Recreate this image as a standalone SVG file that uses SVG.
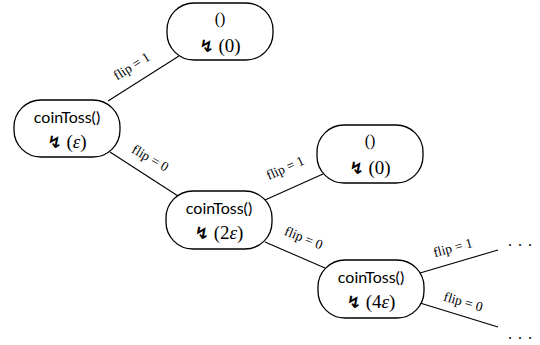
<svg xmlns="http://www.w3.org/2000/svg" width="540" height="345" viewBox="0 0 540 345">
  <style>
    .node rect { fill: #ffffff; stroke: #000000; stroke-width: 1.3; }
    .fn { font-family: "Lato", "Liberation Sans", sans-serif; font-size: 16px; fill: #000; text-anchor: middle; }
    .unit { font-family: "Liberation Serif", "DejaVu Serif", serif; font-size: 16px; fill: #000; text-anchor: middle; }
    .cost { font-family: "Liberation Serif", "DejaVu Serif", serif; font-size: 19px; fill: #000; text-anchor: middle; }
    .bolt { font-family: "DejaVu Sans", sans-serif; font-size: 17px; font-weight: bold; }
    .edge { stroke: #000000; stroke-width: 1.1; fill: none; }
    .lbl { font-family: "Liberation Serif", "DejaVu Serif", serif; font-size: 13.5px; fill: #000; text-anchor: middle; }
    .dots { font-family: "Liberation Serif", serif; font-size: 16px; fill: #000; text-anchor: middle; letter-spacing: 6px; }
  </style>

  <!-- connectors and their labels -->
  <g id="edges">
    <line class="edge" x1="108" y1="101" x2="179" y2="56"/>
    <line class="edge" x1="110" y1="152" x2="178" y2="196"/>
    <line class="edge" x1="265" y1="200" x2="323" y2="174"/>
    <line class="edge" x1="265" y1="242" x2="325" y2="268"/>
    <line class="edge" x1="420" y1="273" x2="498" y2="250"/>
    <line class="edge" x1="420" y1="303" x2="498" y2="327"/>

    <text class="lbl" transform="translate(134 70) rotate(-32)">flip = 1</text>
    <text class="lbl" transform="translate(148 162) rotate(30)">flip = 0</text>
    <text class="lbl" transform="translate(287 172) rotate(-24)">flip = 1</text>
    <text class="lbl" transform="translate(302 242) rotate(22)">flip = 0</text>
    <text class="lbl" transform="translate(454 252) rotate(-15)">flip = 1</text>
    <text class="lbl" transform="translate(462 306) rotate(16)">flip = 0</text>

    <text class="dots" x="523" y="246">...</text>
    <text class="dots" x="523" y="339">...</text>
  </g>

  <!-- leaf: flip = 1 from the root -->
  <g id="leafA" class="node">
    <rect x="167" y="3" width="106" height="57" rx="27" ry="27"/>
    <text class="unit" x="220" y="24">()</text>
    <text class="cost" x="220" y="52"><tspan class="bolt">↯</tspan> (0)</text>
  </g>

  <!-- root call -->
  <g id="root" class="node">
    <rect x="14" y="100" width="106" height="57" rx="27" ry="27"/>
    <text class="fn" x="67" y="123">coinToss()</text>
    <text class="cost" x="67" y="148"><tspan class="bolt">↯</tspan> (<tspan font-style="italic">ε</tspan>)</text>
  </g>

  <!-- second call -->
  <g id="callB" class="node">
    <rect x="166" y="191" width="106" height="58" rx="27" ry="27"/>
    <text class="fn" x="219" y="214">coinToss()</text>
    <text class="cost" x="219" y="239"><tspan class="bolt">↯</tspan> (2<tspan font-style="italic">ε</tspan>)</text>
  </g>

  <!-- leaf: flip = 1 from the second call -->
  <g id="leafC" class="node">
    <rect x="317" y="125" width="106" height="58" rx="27" ry="27"/>
    <text class="unit" x="370" y="146">()</text>
    <text class="cost" x="370" y="174"><tspan class="bolt">↯</tspan> (0)</text>
  </g>

  <!-- third call -->
  <g id="callD" class="node">
    <rect x="318" y="260" width="106" height="58" rx="27" ry="27"/>
    <text class="fn" x="371" y="283">coinToss()</text>
    <text class="cost" x="371" y="308"><tspan class="bolt">↯</tspan> (4<tspan font-style="italic">ε</tspan>)</text>
  </g>
</svg>
